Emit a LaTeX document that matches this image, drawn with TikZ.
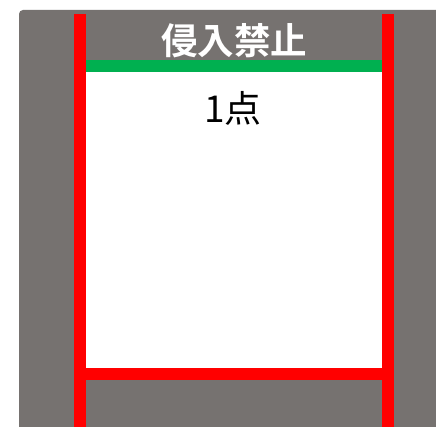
\documentclass[tikz,border=0pt]{standalone}
\usepackage{fontspec}
\newfontfamily\cjk{Noto Sans CJK JP}[BoldFont={Noto Sans CJK JP Bold}]
\definecolor{road}{RGB}{118,114,112}
\definecolor{lineRed}{RGB}{255,0,0}
\definecolor{lineGreen}{RGB}{0,176,80}
\begin{document}
\begin{tikzpicture}[x=1pt,y=-1pt,
  bar/.style={fill=lineRed,draw=none},
  title/.style={text=white,font=\cjk\bfseries\fontsize{36.5pt}{38pt}\selectfont,inner sep=0pt},
  score/.style={text=black,font=\cjk\fontsize{37pt}{39pt}\selectfont,inner sep=0pt}]
\useasboundingbox (0,0) rectangle (436,427);
\fill[white] (0,0) rectangle (436,427);
\fill[road] (19,427) -- (19,14) arc[start angle=180,end angle=270,radius=4] -- (436,10) -- (436,427) -- cycle;
\fill[white] (86,72) rectangle (382,368);
\fill[lineGreen] (86,60) rectangle (382,72);
\fill[bar] (86,368) rectangle (382,380);
\fill[bar] (74,14) rectangle (86,427);
\fill[bar] (382,14) rectangle (394,427);
\node[title] (t) at (234,41) {侵入禁止};
\node[score] (s) at (233,108) {1点};
\end{tikzpicture}
\end{document}
